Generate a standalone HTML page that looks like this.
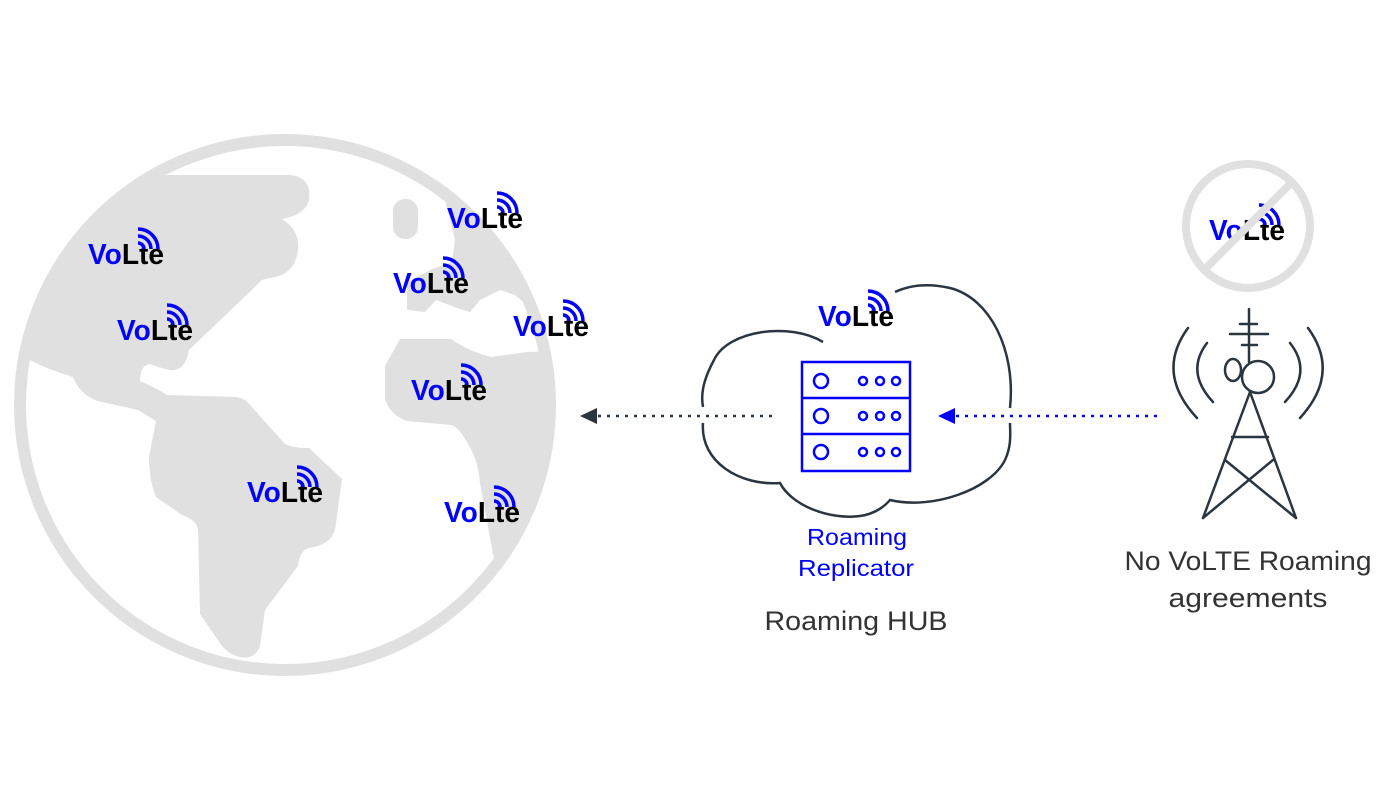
<!DOCTYPE html>
<html><head><meta charset="utf-8"><style>
html,body{margin:0;padding:0;background:#fff;}
svg{display:block;}
.vb{fill:#0000ff;font-family:"Liberation Sans",sans-serif;font-weight:bold;font-size:29px;}
.vk{fill:#000;}
</style></head><body>
<svg width="1400" height="812" viewBox="0 0 1400 812" xmlns="http://www.w3.org/2000/svg">
<defs>
<clipPath id="gc"><circle cx="285" cy="405" r="266"/></clipPath>
</defs>
<circle cx="285" cy="405" r="265" fill="none" stroke="#e0e0e0" stroke-width="12"/>
<g clip-path="url(#gc)" fill="#e0e0e0">
<path d="M20,175 L291,175 Q312,178 309,200 Q305,215 282,219 Q300,230 298,250 Q295,275 270,278 L262,280 L189,350 Q185,372 170,370 Q160,368 150,364 Q140,365 140,381 Q160,390 167,395 L236,397 Q245,398 251,406 L284,443 Q290,448 309,448 L342,479 L335,530 Q330,545 309,548 Q300,550 298,566 L265,610 L260,646 Q255,660 240,657 Q230,655 222,646 L200,614 L198,530 Q197,520 182,515 L156,497 Q149,480 149,457 L156,421 L138,410 L98,401 Q80,395 73,377 Q50,370 36,363 L0,345 L0,175 Z"/>
<rect x="393" y="199" width="25" height="40" rx="12"/>
<path d="M445,200 L600,200 L600,300 L527,305 L515,295 L500,290 L480,300 L470,312 L457,308 L436,300 L425,312 L407,310 L407,283 L430,270 L452,262 L455,240 Z"/>
<path d="M400,339 L451,339 Q470,352 491,357 L527,352 L600,350 L600,600 L495,565 L480,483 Q478,460 469,446 Q460,428 451,425 L407,421 Q390,415 385,399 L385,366 Z"/>
</g>
<g>
<g transform="translate(88,264)"><text class="vb" textLength="76" lengthAdjust="spacingAndGlyphs">Vo<tspan class="vk">Lte</tspan></text><g fill="none" stroke="#0000ff" stroke-width="3.5"><path d="M50,-21 a6,6 0 0 1 6,6"/><path d="M50,-28 a13,13 0 0 1 13,13"/><path d="M50,-35 a20,20 0 0 1 20,20"/></g></g>
<g transform="translate(117,340)"><text class="vb" textLength="76" lengthAdjust="spacingAndGlyphs">Vo<tspan class="vk">Lte</tspan></text><g fill="none" stroke="#0000ff" stroke-width="3.5"><path d="M50,-21 a6,6 0 0 1 6,6"/><path d="M50,-28 a13,13 0 0 1 13,13"/><path d="M50,-35 a20,20 0 0 1 20,20"/></g></g>
<g transform="translate(447,228)"><text class="vb" textLength="76" lengthAdjust="spacingAndGlyphs">Vo<tspan class="vk">Lte</tspan></text><g fill="none" stroke="#0000ff" stroke-width="3.5"><path d="M50,-21 a6,6 0 0 1 6,6"/><path d="M50,-28 a13,13 0 0 1 13,13"/><path d="M50,-35 a20,20 0 0 1 20,20"/></g></g>
<g transform="translate(393,293)"><text class="vb" textLength="76" lengthAdjust="spacingAndGlyphs">Vo<tspan class="vk">Lte</tspan></text><g fill="none" stroke="#0000ff" stroke-width="3.5"><path d="M50,-21 a6,6 0 0 1 6,6"/><path d="M50,-28 a13,13 0 0 1 13,13"/><path d="M50,-35 a20,20 0 0 1 20,20"/></g></g>
<g transform="translate(513,336)"><text class="vb" textLength="76" lengthAdjust="spacingAndGlyphs">Vo<tspan class="vk">Lte</tspan></text><g fill="none" stroke="#0000ff" stroke-width="3.5"><path d="M50,-21 a6,6 0 0 1 6,6"/><path d="M50,-28 a13,13 0 0 1 13,13"/><path d="M50,-35 a20,20 0 0 1 20,20"/></g></g>
<g transform="translate(411,400)"><text class="vb" textLength="76" lengthAdjust="spacingAndGlyphs">Vo<tspan class="vk">Lte</tspan></text><g fill="none" stroke="#0000ff" stroke-width="3.5"><path d="M50,-21 a6,6 0 0 1 6,6"/><path d="M50,-28 a13,13 0 0 1 13,13"/><path d="M50,-35 a20,20 0 0 1 20,20"/></g></g>
<g transform="translate(247,502)"><text class="vb" textLength="76" lengthAdjust="spacingAndGlyphs">Vo<tspan class="vk">Lte</tspan></text><g fill="none" stroke="#0000ff" stroke-width="3.5"><path d="M50,-21 a6,6 0 0 1 6,6"/><path d="M50,-28 a13,13 0 0 1 13,13"/><path d="M50,-35 a20,20 0 0 1 20,20"/></g></g>
<g transform="translate(444,522)"><text class="vb" textLength="76" lengthAdjust="spacingAndGlyphs">Vo<tspan class="vk">Lte</tspan></text><g fill="none" stroke="#0000ff" stroke-width="3.5"><path d="M50,-21 a6,6 0 0 1 6,6"/><path d="M50,-28 a13,13 0 0 1 13,13"/><path d="M50,-35 a20,20 0 0 1 20,20"/></g></g>
<g transform="translate(818,326)"><text class="vb" textLength="76" lengthAdjust="spacingAndGlyphs">Vo<tspan class="vk">Lte</tspan></text><g fill="none" stroke="#0000ff" stroke-width="3.5"><path d="M50,-21 a6,6 0 0 1 6,6"/><path d="M50,-28 a13,13 0 0 1 13,13"/><path d="M50,-35 a20,20 0 0 1 20,20"/></g></g>
<g transform="translate(1209,240)"><text class="vb" textLength="76" lengthAdjust="spacingAndGlyphs">Vo<tspan class="vk">Lte</tspan></text><g fill="none" stroke="#0000ff" stroke-width="3.5"><path d="M50,-21 a6,6 0 0 1 6,6"/><path d="M50,-28 a13,13 0 0 1 13,13"/><path d="M50,-35 a20,20 0 0 1 20,20"/></g></g>
</g>
<circle cx="1248" cy="226" r="62" fill="none" stroke="#e0e0e0" stroke-width="8"/>
<line x1="1204" y1="270" x2="1292" y2="182" stroke="#e0e0e0" stroke-width="8"/>
<g fill="none" stroke="#2a3540" stroke-width="2.5">
<path d="M823,342 C790,322 728,330 714,360 C702,382 701,396 703,407"/>
<path d="M703,423 C700,462 740,486 780,483 C792,506 830,520 860,516 C875,514 885,506 890,500 C932,510 990,490 1005,460 C1012,445 1010,432 1010,423"/>
<path d="M1010,408 C1016,350 990,298 950,288 C928,283 910,285 895,292"/>
</g>
<g fill="none" stroke="#0000ff" stroke-width="2.5">
<rect x="802" y="362" width="108" height="109"/>
<line x1="802" y1="398" x2="910" y2="398"/>
<line x1="802" y1="434" x2="910" y2="434"/>
<circle cx="821" cy="381" r="7"/><circle cx="821" cy="416" r="7"/><circle cx="821" cy="452" r="7"/>
<circle cx="863" cy="381" r="4"/><circle cx="880" cy="381" r="4"/><circle cx="896" cy="381" r="4"/>
<circle cx="863" cy="416" r="4"/><circle cx="880" cy="416" r="4"/><circle cx="896" cy="416" r="4"/>
<circle cx="863" cy="452" r="4"/><circle cx="880" cy="452" r="4"/><circle cx="896" cy="452" r="4"/>
</g>
<line x1="598" y1="416" x2="774" y2="416" stroke="#2a3540" stroke-width="2.5" stroke-dasharray="3,6"/>
<polygon points="580,416 597,408 597,424" fill="#2a3540"/>
<line x1="956" y1="416" x2="1160" y2="416" stroke="#0000ff" stroke-width="2.5" stroke-dasharray="3,6"/>
<polygon points="938,416 955,408 955,424" fill="#0000ff"/>
<g fill="none" stroke="#2a3540" stroke-width="2.5" stroke-linecap="round">
<line x1="1249" y1="309" x2="1249" y2="362"/>
<line x1="1240" y1="324" x2="1257" y2="324"/>
<line x1="1230" y1="334" x2="1268" y2="334"/>
<line x1="1242" y1="345" x2="1257" y2="345"/>
<ellipse cx="1233" cy="370" rx="8" ry="11"/>
<circle cx="1258" cy="377" r="16"/>
<path d="M1250,392 L1203,518 M1250,392 L1296,518"/>
<line x1="1232" y1="437" x2="1268" y2="437"/>
<path d="M1225,460 L1296,518 M1273,460 L1203,518"/>
<path d="M1188,328 Q1155,373 1197,418"/>
<path d="M1207,343 Q1185,372 1213,402"/>
<path d="M1308,328 Q1341,373 1300,418"/>
<path d="M1290,343 Q1313,372 1285,402"/>
</g>
<g font-family="'Liberation Sans',sans-serif" text-anchor="middle">
<text x="857" y="545" font-size="23" fill="#0000ff" textLength="100" lengthAdjust="spacingAndGlyphs">Roaming</text>
<text x="856" y="576" font-size="23" fill="#0000ff" textLength="116" lengthAdjust="spacingAndGlyphs">Replicator</text>
<text x="856" y="630" font-size="27" fill="#333" textLength="183" lengthAdjust="spacingAndGlyphs">Roaming HUB</text>
<text x="1248" y="570" font-size="27" fill="#333" textLength="247" lengthAdjust="spacingAndGlyphs">No VoLTE Roaming</text>
<text x="1248" y="607" font-size="27" fill="#333" textLength="159" lengthAdjust="spacingAndGlyphs">agreements</text>
</g>
</svg>
</body></html>
